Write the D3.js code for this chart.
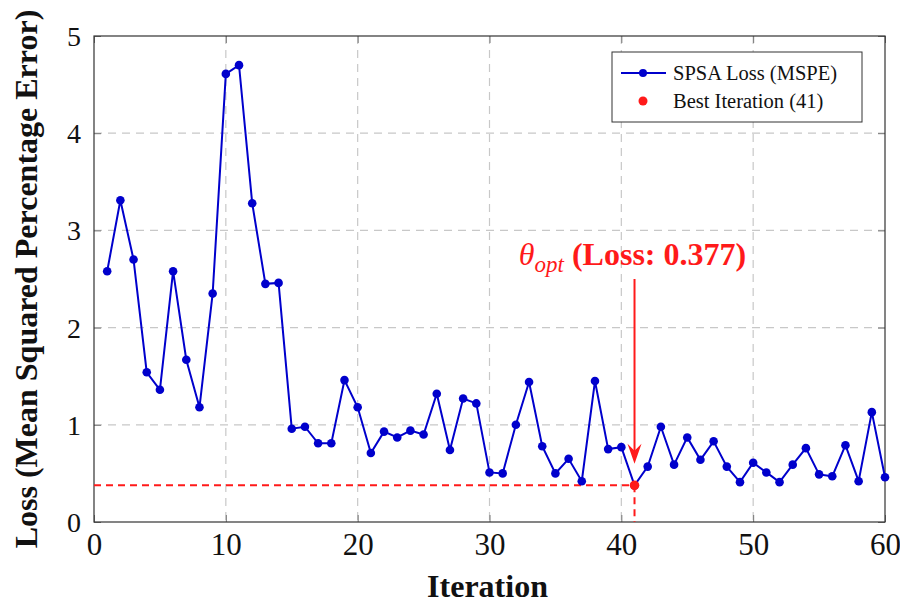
<!DOCTYPE html>
<html>
<head>
<meta charset="utf-8">
<script src="https://cdn.jsdelivr.net/npm/d3@7"></script>
<style>
  body { margin: 0; background: #fff; }
  text { font-family: "Liberation Serif", "Times New Roman", serif; }
</style>
</head>
<body>
<svg id="chart" width="900" height="604"></svg>
<script>
// loss per iteration
const iterations = d3.range(1, 61);
const losses = [
  2.58, 3.31, 2.70, 1.54, 1.36, 2.58, 1.67, 1.18, 2.35, 4.61,
  4.70, 3.28, 2.45, 2.46, 0.96, 0.98, 0.81, 0.81, 1.46, 1.18,
  0.71, 0.93, 0.87, 0.94, 0.90, 1.32, 0.74, 1.27, 1.22, 0.51,
  0.50, 1.00, 1.44, 0.78, 0.50, 0.65, 0.42, 1.45, 0.75, 0.77,
  0.377, 0.57, 0.98, 0.59, 0.87, 0.64, 0.83, 0.57, 0.41, 0.61,
  0.51, 0.41, 0.59, 0.76, 0.49, 0.47, 0.79, 0.42, 1.13, 0.46
];
const xTicks = [0, 10, 20, 30, 40, 50, 60];
const yTicks = [0, 1, 2, 3, 4, 5];
const best = { iter: 41, loss: 0.377 };
const arrowFrom = 2.5, arrowTo = 0.6;

const svg = d3.select("#chart");
const margin = { left: 94, right: 15, top: 36, bottom: 82 };
const w = 900 - margin.left - margin.right;
const h = 604 - margin.top - margin.bottom;

const x = d3.scaleLinear().domain([0, 60]).range([0, w]);
const y = d3.scaleLinear().domain([0, 5]).range([h, 0]);

const g = svg.append("g").attr("transform", `translate(${margin.left},${margin.top})`);

// grid
g.selectAll(".gx").data(xTicks.slice(1, -1)).enter().append("line")
  .attr("x1", d => x(d)).attr("x2", d => x(d)).attr("y1", 0).attr("y2", h)
  .attr("stroke", "#c8c8c8").attr("stroke-width", 1.2).attr("stroke-dasharray", "8,6");
g.selectAll(".gy").data(yTicks.slice(1, -1)).enter().append("line")
  .attr("x1", 0).attr("x2", w).attr("y1", d => y(d)).attr("y2", d => y(d))
  .attr("stroke", "#c8c8c8").attr("stroke-width", 1.2).attr("stroke-dasharray", "8,6");

// axes with inward ticks
const axBottom = g.append("g").attr("transform", `translate(0,${h})`)
  .call(d3.axisBottom(x).tickValues(xTicks).tickSize(-7));
const axTop = g.append("g")
  .call(d3.axisTop(x).tickValues(xTicks).tickSize(-7).tickFormat(""));
const axLeft = g.append("g")
  .call(d3.axisLeft(y).tickValues(yTicks).tickSize(-7).tickFormat(d3.format("d")));
const axRight = g.append("g").attr("transform", `translate(${w},0)`)
  .call(d3.axisRight(y).tickValues(yTicks).tickSize(-7).tickFormat(""));
[axBottom, axTop, axLeft, axRight].forEach(a => {
  a.select(".domain").remove();
  a.selectAll(".tick line").attr("stroke", "#777");
  a.selectAll("text").attr("fill", "#111")
    .style("font-family", "Liberation Serif, serif");
});
axLeft.selectAll("text").attr("font-size", 28).attr("x", -13).attr("dy", "0.34em");
axBottom.selectAll("text").attr("font-size", 31).attr("y", 0).attr("dy", 33);

// frame
g.append("rect").attr("width", w).attr("height", h)
  .attr("fill", "none").attr("stroke", "#333").attr("stroke-width", 1.2);

// best iteration guides
g.append("line")
  .attr("x1", 0).attr("x2", x(best.iter)).attr("y1", y(best.loss)).attr("y2", y(best.loss))
  .attr("stroke", "#ff1a1a").attr("stroke-width", 2).attr("stroke-dasharray", "7,5");
g.append("line")
  .attr("x1", x(best.iter)).attr("x2", x(best.iter)).attr("y1", y(best.loss)).attr("y2", h)
  .attr("stroke", "#ff1a1a").attr("stroke-width", 2).attr("stroke-dasharray", "7,5");

// loss line
const line = d3.line().x((d, i) => x(iterations[i])).y(d => y(d));
g.append("path").datum(losses).attr("d", line)
  .attr("fill", "none").attr("stroke", "#0000cc").attr("stroke-width", 2);
g.selectAll(".pt").data(losses).enter().append("circle")
  .attr("cx", (d, i) => x(iterations[i])).attr("cy", d => y(d)).attr("r", 4.3)
  .attr("fill", "#0000cc");

g.append("circle").attr("cx", x(best.iter)).attr("cy", y(best.loss)).attr("r", 4.8)
  .attr("fill", "#ff1a1a");

// arrow
const ax = x(best.iter), ay0 = y(arrowFrom), ay1 = y(arrowTo);
g.append("line").attr("x1", ax).attr("x2", ax).attr("y1", ay0).attr("y2", ay1 - 10)
  .attr("stroke", "#ff1a1a").attr("stroke-width", 2);
g.append("path")
  .attr("d", `M${ax},${ay1} L${ax - 7},${ay1 - 20} L${ax},${ay1 - 13} L${ax + 7},${ay1 - 20} Z`)
  .attr("fill", "#ff1a1a");

// annotation
const ann = g.append("text").attr("x", ax - 2).attr("y", ay0 - 14)
  .attr("text-anchor", "middle").attr("fill", "#ff1a1a").attr("font-size", 32);
ann.append("tspan").attr("font-style", "italic").text("θ");
ann.append("tspan").attr("font-style", "italic").attr("font-size", 23).attr("dy", 7).text("opt");
ann.append("tspan").attr("dy", -7).attr("font-weight", "bold").text(" (Loss: 0.377)");

// legend
const lg = svg.append("g").attr("transform", "translate(612,52)");
lg.append("rect").attr("width", 250).attr("height", 70)
  .attr("fill", "#fff").attr("stroke", "#333").attr("stroke-width", 1);
lg.append("line").attr("x1", 9).attr("x2", 54).attr("y1", 21).attr("y2", 21)
  .attr("stroke", "#0000cc").attr("stroke-width", 2);
lg.append("circle").attr("cx", 31).attr("cy", 21).attr("r", 4).attr("fill", "#0000cc");
lg.append("circle").attr("cx", 31).attr("cy", 49).attr("r", 4.5).attr("fill", "#ff1a1a");
lg.append("text").attr("x", 61).attr("y", 27.5).attr("font-size", 20.5).attr("fill", "#111")
  .text("SPSA Loss (MSPE)");
lg.append("text").attr("x", 61).attr("y", 56).attr("font-size", 20.5).attr("fill", "#111")
  .text("Best Iteration (41)");

// axis titles
svg.append("text").attr("x", margin.left + w / 2 - 2).attr("y", 597)
  .attr("text-anchor", "middle").attr("font-weight", "bold").attr("font-size", 32)
  .attr("fill", "#111").text("Iteration");
svg.append("text").attr("transform", `translate(37,${margin.top + h / 2}) rotate(-90)`)
  .attr("text-anchor", "middle").attr("font-weight", "bold").attr("font-size", 32)
  .attr("fill", "#111").text("Loss (Mean Squared Percentage Error)");
</script>
</body>
</html>
